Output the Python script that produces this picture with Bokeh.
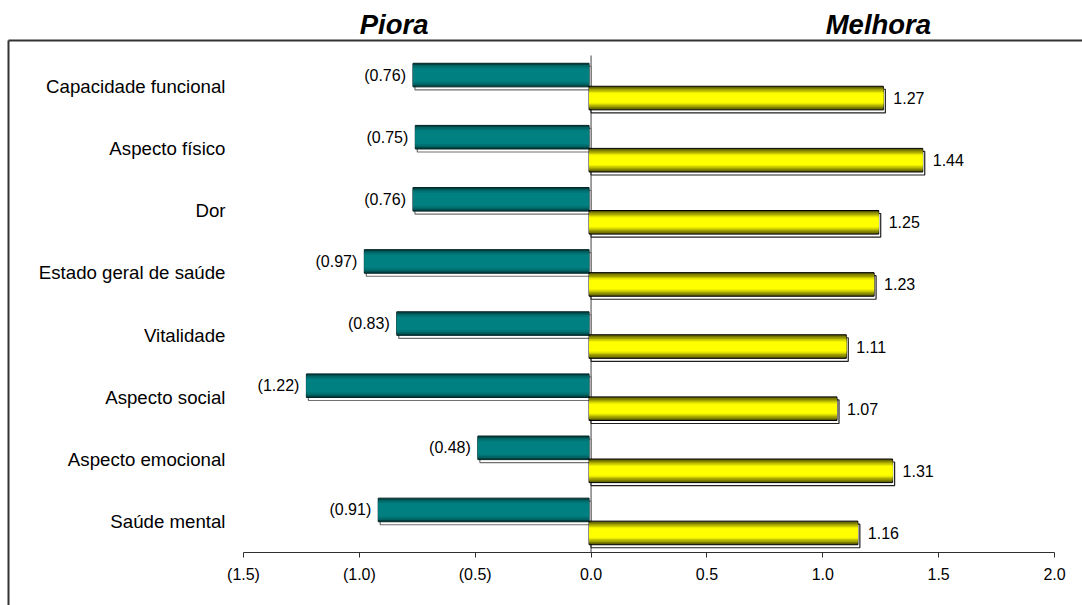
from bokeh.plotting import figure
from bokeh.models import ColumnDataSource, Range1d, FixedTicker
from bokeh.transform import dodge
from bokeh.core.properties import value
from bokeh.embed import file_html
from bokeh.resources import INLINE

# SF-36 domains, top to bottom
categories = ["Capacidade funcional", "Aspecto físico", "Dor",
              "Estado geral de saúde", "Vitalidade", "Aspecto social",
              "Aspecto emocional", "Saúde mental"]
piora = [-0.76, -0.75, -0.76, -0.97, -0.83, -1.22, -0.48, -0.91]
melhora = [1.27, 1.44, 1.25, 1.23, 1.11, 1.07, 1.31, 1.16]
x_ticks = [-1.5, -1.0, -0.5, 0.0, 0.5, 1.0, 1.5, 2.0]
x_tick_labels = ["(1.5)", "(1.0)", "(0.5)", "0.0", "0.5", "1.0", "1.5", "2.0"]
headings = ["Piora", "Melhora"]
heading_x = [-0.85, 1.24]

FONT = "Liberation Sans"
W, H = 1082, 605
n = len(categories)

# Page geometry: the frame fills the whole canvas, the value axis spans
# x_ticks[0]..x_ticks[-1] between these pixel columns, and the category
# band block sits between these pixel rows.
AX_LEFT_PX, AX_RIGHT_PX = 243, 1054
BAND_TOP_PX, BAND_BOT_PX = 55, 552
px_x = (AX_RIGHT_PX - AX_LEFT_PX) / (x_ticks[-1] - x_ticks[0])
px_y = (BAND_BOT_PX - BAND_TOP_PX) / n
x_lo = x_ticks[0] - AX_LEFT_PX / px_x
x_hi = x_ticks[-1] + (W - AX_RIGHT_PX) / px_x
y_hi = (n - 0.5) + BAND_TOP_PX / px_y
y_lo = (n - 0.5) - (H - BAND_TOP_PX) / px_y


def y_at(py):
    """data y for a canvas pixel row"""
    return (n - 0.5) - (py - BAND_TOP_PX) / px_y


def x_at(px):
    """data x for a canvas pixel column"""
    return x_lo + px / px_x


BAR_H = 0.38
OFF = 0.185              # vertical dodge of each series from the band centre
SH_DX = 2.0 / px_x       # bars sit 2 px left of their drop shadow
SH_DY = 3.0 / px_y       # shadow drops 3 px

src = ColumnDataSource(dict(
    cat=categories,
    y=[n - 1 - i for i in range(n)],
    piora=piora,
    melhora=melhora,
    zero=[0.0] * n,
    axis_start=[x_ticks[0]] * n,
    piora_lbl=["(%.2f)" % abs(v) for v in piora],
    melhora_lbl=["%.2f" % v for v in melhora],
))

p = figure(width=W, height=H, x_range=Range1d(x_lo, x_hi),
           y_range=Range1d(y_lo, y_hi), output_backend="svg",
           toolbar_location=None, y_axis_location=None,
           min_border_left=0, min_border_right=0,
           min_border_top=0, min_border_bottom=0)
p.title.visible = False
p.outline_line_color = None
p.background_fill_color = "white"
p.border_fill_color = "white"
p.xgrid.visible = False
p.ygrid.visible = False

# chart-area border: only its left and top edges fall inside the page
bx, by = x_at(8), y_at(40)
p.segment(x0=[bx, bx], y0=[by, by], x1=[x_hi + 1, bx], y1=[by, y_lo - 1],
          line_color="#333333", line_width=2)

# zero line across the category bands
p.segment(x0=[0.0], x1=[0.0], y0=[-0.5], y1=[n - 0.5],
          line_color="#808080", line_width=1.5)

# drop shadows (white box with outline, offset right/down)
p.hbar(y=dodge("y", OFF - SH_DY), left="zero", right="piora",
       height=BAR_H, source=src, fill_color="white", line_color="#707070",
       line_width=1.2)
p.hbar(y=dodge("y", -OFF - SH_DY), left="zero", right="melhora",
       height=BAR_H, source=src, fill_color="white", line_color="#202020",
       line_width=1.2)

# teal series, built as nested bands for a cylinder-like shading
teal_bands = [(1.00, "#004242"), (0.86, "#006262"), (0.72, "#007474"),
              (0.56, "#008080")]
for i, (frac, col) in enumerate(teal_bands):
    p.hbar(y=dodge("y", OFF),
           left=dodge("zero", -SH_DX), right=dodge("piora", -SH_DX),
           height=BAR_H * frac, source=src, fill_color=col,
           line_color="#002424" if i == 0 else None, line_width=1)

# yellow series
yellow_bands = [(1.00, "#5c5c00"), (0.88, "#7f7f00"), (0.76, "#a3a300"),
                (0.64, "#c8c800"), (0.52, "#ecec00"), (0.40, "#ffff00")]
for i, (frac, col) in enumerate(yellow_bands):
    p.hbar(y=dodge("y", -OFF),
           left=dodge("zero", -SH_DX), right=dodge("melhora", -SH_DX),
           height=BAR_H * frac, source=src, fill_color=col,
           line_color="black" if i == 0 else None, line_width=1)

# value labels
p.text(x="piora", y=dodge("y", OFF), text="piora_lbl", source=src,
       x_offset=-9, text_align="right", text_baseline="middle",
       text_font=value(FONT), text_font_size="16px", text_color="black")
p.text(x="melhora", y=dodge("y", -OFF), text="melhora_lbl",
       source=src, x_offset=8, text_align="left", text_baseline="middle",
       text_font=value(FONT), text_font_size="16px", text_color="black")

# category labels, right-aligned just left of the value axis start
p.text(x="axis_start", y="y", text="cat", source=src, x_offset=-18,
       text_align="right", text_baseline="middle",
       text_font=value(FONT), text_font_size="18.67px", text_color="black")

# side headings
p.text(x=heading_x, y=[y_at(24)] * len(headings), text=headings,
       text_align="center", text_baseline="middle",
       text_font=value(FONT), text_font_size="27.5px",
       text_font_style="bold italic", text_color="black")

# value axis, placed inside the frame at the bottom of the bands
xa = p.xaxis[0]
xa.fixed_location = -0.5
xa.bounds = (x_ticks[0], x_ticks[-1])
xa.ticker = FixedTicker(ticks=x_ticks)
xa.major_label_overrides = dict(zip(x_ticks, x_tick_labels))
xa.axis_line_color = "#303030"
xa.major_tick_line_color = "#303030"
xa.major_tick_out = 5
xa.major_tick_in = 0
xa.minor_tick_line_color = None
xa.major_label_text_font = FONT
xa.major_label_text_font_size = "16px"
xa.major_label_text_color = "black"
xa.major_label_standoff = 8

open("out.html", "w").write(file_html(p, INLINE))
